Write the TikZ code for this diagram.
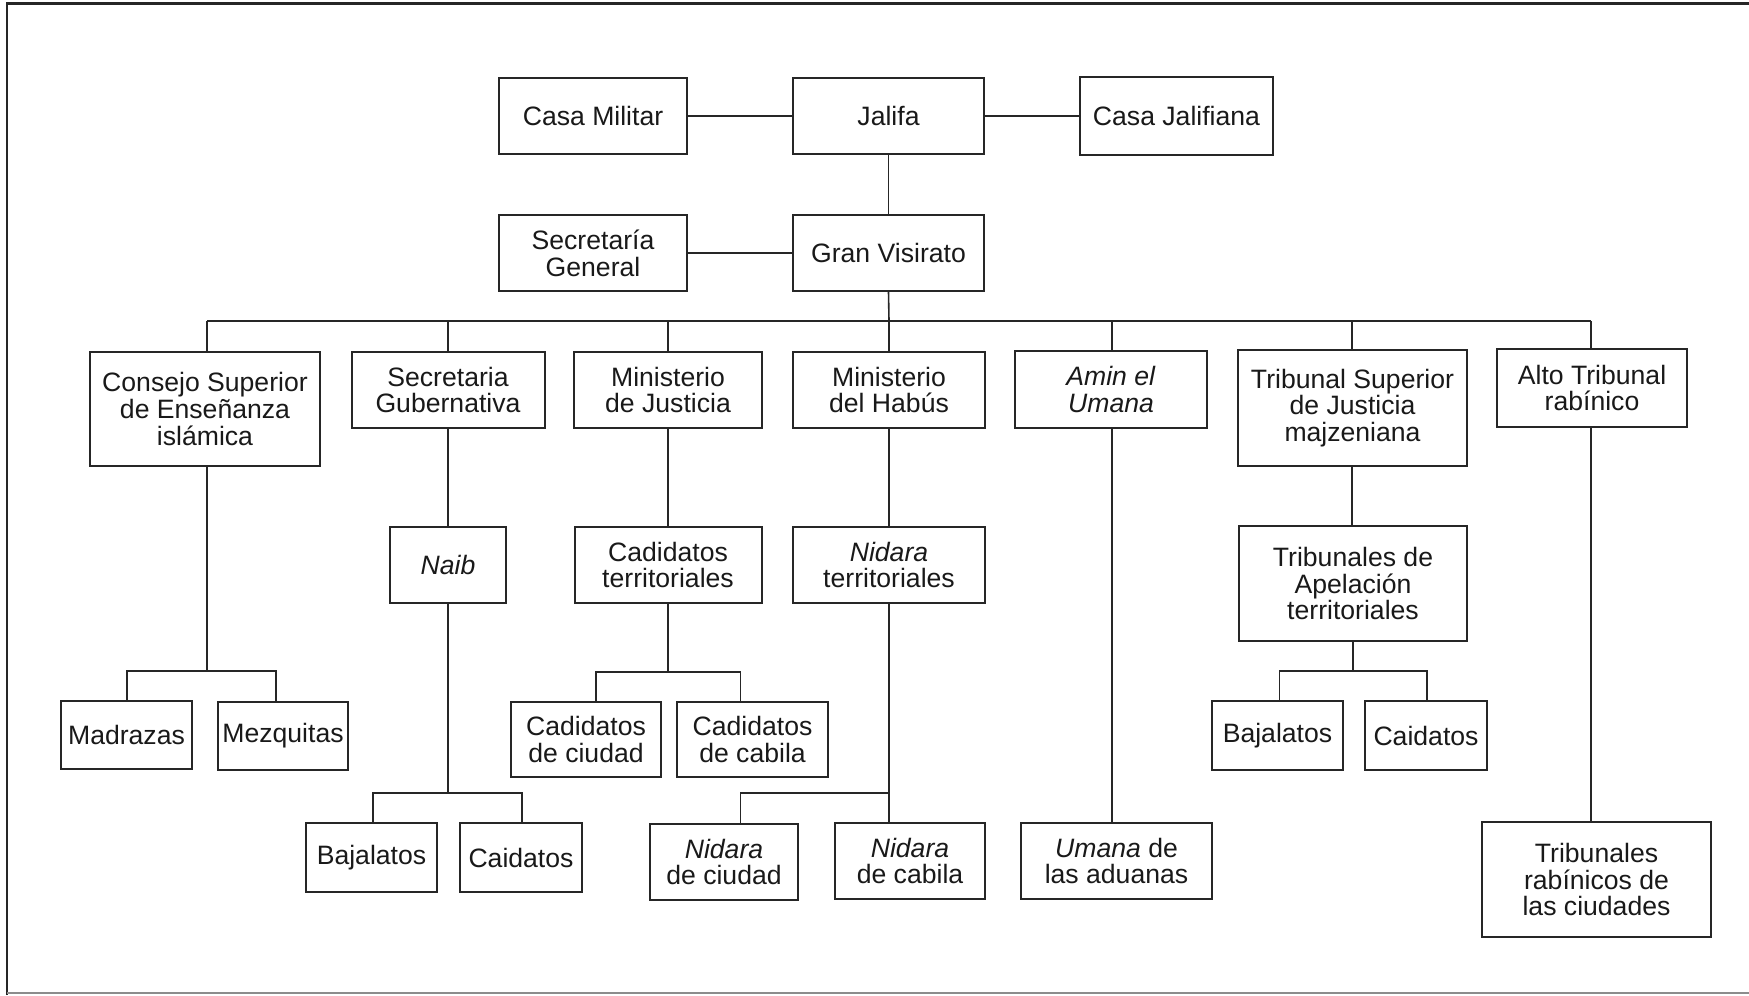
\documentclass[tikz,border=0pt]{standalone}
\usepackage{fontspec}
\setmainfont{Liberation Sans}
\begin{document}
\begin{tikzpicture}[x=0.5pt,y=-0.5pt,
  box/.style={draw=black!85, line width=1pt, inner sep=0pt, align=center, text=black!90,
    font=\fontsize{13.3}{13.4}\selectfont},
  conn/.style={draw=black!85, line width=0.8pt}]
\useasboundingbox (0,0) rectangle (1749,995);
% frame
\draw[line width=1.4pt, black!85] (7,995) -- (7,3.5) -- (1749,3.5);
\draw[line width=1pt, black!45] (7,993) -- (1749,993);

% top rows
\node[box, minimum width=94pt, minimum height=38pt] (casamil) at (593,116) {Casa Militar};
\node[box, minimum width=95.5pt, minimum height=38pt] (jalifa) at (888.5,116) {Jalifa};
\node[box, minimum width=96.5pt, minimum height=38.5pt] (casajal) at (1176.5,116) {Casa Jalifiana};
\node[box, minimum width=94pt, minimum height=38pt] (secgen) at (593,253) {Secretaría\\General};
\node[box, minimum width=95.5pt, minimum height=38pt] (gran) at (888.5,253) {Gran Visirato};

% row 1
\node[box, minimum width=115pt, minimum height=57pt] (consejo) at (205,409) {Consejo Superior\\de Enseñanza\\islámica};
\node[box, minimum width=96.5pt, minimum height=38pt] (secgub) at (448,390) {Secretaria\\Gubernativa};
\node[box, minimum width=94pt, minimum height=38pt] (minjus) at (668,390) {Ministerio\\de Justicia};
\node[box, minimum width=96pt, minimum height=38pt] (habus) at (889,390) {Ministerio\\del Habús};
\node[box, minimum width=96pt, minimum height=38.5pt] (amin) at (1111,389.5) {\textit{Amin el}\\\textit{Umana}};
\node[box, minimum width=114.5pt, minimum height=58pt] (tribsup) at (1352.5,408) {Tribunal Superior\\de Justicia\\majzeniana};
\node[box, minimum width=95pt, minimum height=39pt] (alto) at (1592,388) {Alto Tribunal\\rabínico};

% row 2
\node[box, minimum width=58pt, minimum height=38pt] (naib) at (448,565) {\textit{Naib}};
\node[box, minimum width=93.5pt, minimum height=38pt] (cadter) at (668,565) {Cadidatos\\territoriales};
\node[box, minimum width=96pt, minimum height=38pt] (nidter) at (889,565) {\textit{Nidara}\\territoriales};
\node[box, minimum width=114pt, minimum height=57.5pt] (tribape) at (1353,583.5) {Tribunales de\\Apelación\\territoriales};

% row 3
\node[box, minimum width=65.5pt, minimum height=34pt] (madrazas) at (126.5,735) {Madrazas};
\node[box, minimum width=65pt, minimum height=34pt] (mezquitas) at (283,736) {Mezquitas};
\node[box, minimum width=75pt, minimum height=37.5pt] (cadciu) at (586,739.5) {Cadidatos\\de ciudad};
\node[box, minimum width=75.5pt, minimum height=37.5pt] (cadcab) at (752.5,739.5) {Cadidatos\\de cabila};
\node[box, minimum width=65.5pt, minimum height=34.5pt] (bajR) at (1277.5,735.5) {Bajalatos};
\node[box, minimum width=61pt, minimum height=34.5pt] (caiR) at (1426,735.5) {Caidatos};

% row 4
\node[box, minimum width=65.5pt, minimum height=34.5pt] (bajL) at (371.5,857.5) {Bajalatos};
\node[box, minimum width=61pt, minimum height=34.5pt] (caiL) at (521,857.5) {Caidatos};
\node[box, minimum width=74pt, minimum height=38pt] (nidciu) at (724,862) {\textit{Nidara}\\de ciudad};
\node[box, minimum width=75pt, minimum height=38pt] (nidcab) at (910,861) {\textit{Nidara}\\de cabila};
\node[box, minimum width=95.5pt, minimum height=38pt] (umana) at (1116.5,861) {\textit{Umana} de\\las aduanas};
\node[box, minimum width=114.5pt, minimum height=57.5pt] (tribrab) at (1596.5,879.5) {Tribunales\\rabínicos de\\las ciudades};

% connectors top
\draw[conn] (casamil) -- (jalifa);
\draw[conn] (jalifa) -- (casajal);
\draw[conn] (jalifa) -- (gran);
\draw[conn] (secgen) -- (gran);

% bus
\coordinate (bus) at (889,321);
\coordinate (busL) at (207,321);
\coordinate (busR) at (1591,321);
\coordinate (b2) at (448,321);
\coordinate (b3) at (668,321);
\coordinate (b5) at (1112,321);
\coordinate (b6) at (1352,321);
\draw[conn] (gran.south) -- (bus);
\draw[conn] (busL) -- (busR);
\draw[conn] (busL) -- (busL |- consejo.north);
\draw[conn] (b2) -- (b2 |- secgub.north);
\draw[conn] (b3) -- (b3 |- minjus.north);
\draw[conn] (bus) -- (bus |- habus.north);
\draw[conn] (b5) -- (b5 |- amin.north);
\draw[conn] (b6) -- (b6 |- tribsup.north);
\draw[conn] (busR) -- (busR |- alto.north);

% Consejo branch
\coordinate (cjJ) at (207,671);
\coordinate (cjL) at (127,671);
\coordinate (cjR) at (276,671);
\draw[conn] (cjJ |- consejo.south) -- (cjJ);
\draw[conn] (cjL |- madrazas.north) -- (cjL) -- (cjR) -- (cjR |- mezquitas.north);

% Secretaria Gubernativa branch
\draw[conn] (secgub) -- (naib);
\coordinate (nbJ) at (448,793);
\coordinate (nbL) at (373,793);
\coordinate (nbR) at (522,793);
\draw[conn] (naib.south) -- (nbJ);
\draw[conn] (nbL |- bajL.north) -- (nbL) -- (nbR) -- (nbR |- caiL.north);

% Ministerio de Justicia branch
\draw[conn] (minjus) -- (cadter);
\coordinate (ctJ) at (668,672);
\coordinate (ctL) at (596,672);
\coordinate (ctR) at (740.5,672);
\draw[conn] (cadter.south) -- (ctJ);
\draw[conn] (ctL |- cadciu.north) -- (ctL) -- (ctR) -- (ctR |- cadcab.north);

% Habus branch
\draw[conn] (habus) -- (nidter);
\coordinate (ndJ) at (889,793);
\coordinate (ndL) at (740.5,793);
\draw[conn] (nidter.south) -- (nidter.south |- nidcab.north);
\draw[conn] (ndJ) -- (ndL) -- (ndL |- nidciu.north);

% Amin branch
\draw[conn] (b5 |- amin.south) -- (b5 |- umana.north);

% Tribunal Superior branch
\draw[conn] (b6 |- tribsup.south) -- (b6 |- tribape.north);
\coordinate (taJ) at (1353,671);
\coordinate (taL) at (1279.5,671);
\coordinate (taR) at (1427,671);
\draw[conn] (tribape.south) -- (taJ);
\draw[conn] (taL |- bajR.north) -- (taL) -- (taR) -- (taR |- caiR.north);

% Alto Tribunal branch
\draw[conn] (alto.south -| busR) -- (busR |- tribrab.north);
\end{tikzpicture}
\end{document}
